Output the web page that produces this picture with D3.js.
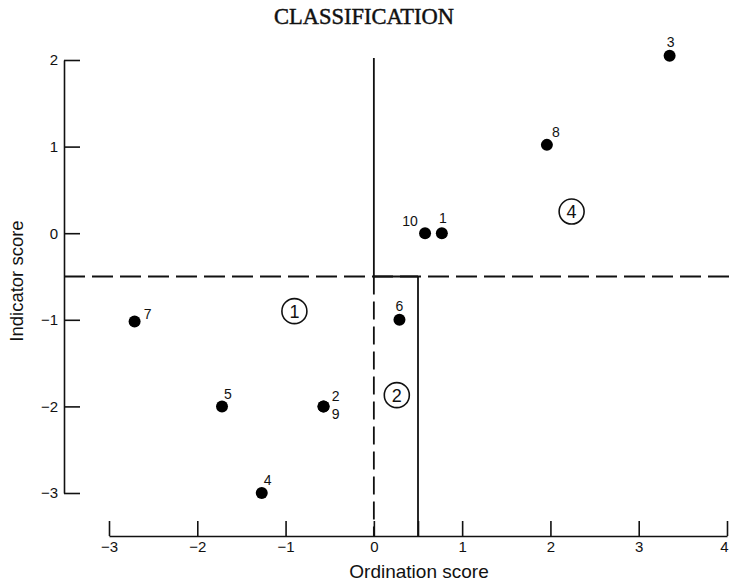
<!DOCTYPE html>
<html>
<head>
<meta charset="utf-8">
<script src="https://cdn.jsdelivr.net/npm/d3@7"></script>
<style>
  html, body { margin: 0; padding: 0; background: #fff; }
  svg { display: block; }
</style>
</head>
<body>
<svg id="chart" width="730" height="585"></svg>
<script>
// Sample sites: id, ordination score (x), indicator score (y)
const sampleIds   = ["1", "2", "3", "4", "5", "6", "7", "8", "9", "10"];
const ordination  = [0.77, -0.57, 3.35, -1.27, -1.72, 0.29, -2.71, 1.96, -0.57, 0.58];
const indicator   = [0.0, -2.0, 2.05, -3.0, -2.0, -1.0, -1.02, 1.02, -2.0, 0.0];

// Classification groups (circled numbers)
const groupIds        = ["1", "2", "4"];
const groupOrdination = [-0.9, 0.26, 2.24];
const groupIndicator  = [-0.9, -1.87, 0.25];

// Division thresholds
const ordinationSplits = [0, 0.5];
const indicatorSplit   = -0.5;

// Axis ticks
const xTicks = [-3, -2, -1, 0, 0.5, 1, 2, 3, 4];
const yTicks = [2, 1, 0, -1, -2, -3];

const svg = d3.select("#chart");

const x = d3.scaleLinear().domain([-3, 4]).range([109, 727]);
const y = d3.scaleLinear().domain([-3, 2]).range([493, 60]);
const axisX = 64;
const axisY = 536;

const sans = "'Liberation Sans', Arial, Helvetica, sans-serif";
const minus = d => (d < 0 ? "\u2212" + Math.abs(d) : String(d));

// Y axis (ticks point into the plot)
const gy = svg.append("g")
  .attr("transform", `translate(${axisX},0)`)
  .call(d3.axisLeft(y).tickValues(yTicks).tickSizeInner(-16).tickSizeOuter(0)
        .tickPadding(6).tickFormat(minus));

// X axis
const gx = svg.append("g")
  .attr("transform", `translate(0,${axisY})`)
  .call(d3.axisBottom(x).tickValues(xTicks).tickSizeInner(-15).tickSizeOuter(0)
        .tickPadding(5).tickFormat(d => (d === 0.5 ? "" : minus(d))));

[gy, gx].forEach(g => {
  g.attr("font-size", 15).attr("font-family", sans);
  g.select(".domain").attr("stroke", "#111").attr("stroke-width", 1.6);
  g.selectAll(".tick line").attr("stroke", "#111").attr("stroke-width", 1.6);
  g.selectAll(".tick text").attr("fill", "#111");
});

// keep the last x label inside the page edge
gx.selectAll(".tick text").filter(d => d === d3.max(xTicks)).attr("dx", -3);

// Division lines
const lines = svg.append("g").attr("stroke", "#111").attr("fill", "none");

// horizontal split across the whole plot (dashed)
lines.append("line")
  .attr("x1", axisX).attr("x2", 730)
  .attr("y1", y(indicatorSplit)).attr("y2", y(indicatorSplit))
  .attr("stroke-width", 1.8).attr("stroke-dasharray", "21,7");

// solid segment between the two vertical splits
lines.append("line")
  .attr("x1", x(ordinationSplits[0])).attr("x2", x(ordinationSplits[1]))
  .attr("y1", y(indicatorSplit)).attr("y2", y(indicatorSplit))
  .attr("stroke-width", 1.8);

// vertical split at 0: solid above, dashed below
lines.append("line")
  .attr("x1", x(ordinationSplits[0])).attr("x2", x(ordinationSplits[0]))
  .attr("y1", y(2) - 2).attr("y2", y(indicatorSplit))
  .attr("stroke-width", 1.8);
lines.append("line")
  .attr("x1", x(ordinationSplits[0])).attr("x2", x(ordinationSplits[0]))
  .attr("y1", y(indicatorSplit)).attr("y2", axisY)
  .attr("stroke-width", 1.8).attr("stroke-dasharray", "18,7");

// vertical split at 0.5 below the horizontal split (solid)
lines.append("line")
  .attr("x1", x(ordinationSplits[1])).attr("x2", x(ordinationSplits[1]))
  .attr("y1", y(indicatorSplit)).attr("y2", axisY)
  .attr("stroke-width", 1.8);

// Sample points
const points = sampleIds.map((id, i) => ({ id, ox: ordination[i], iy: indicator[i] }));

svg.append("g").selectAll("circle")
  .data(points)
  .join("circle")
  .attr("cx", d => x(d.ox))
  .attr("cy", d => y(d.iy))
  .attr("r", 6)
  .attr("fill", "#000");

// Label placement around each point
const labelOffset = {
  "1": [1, -15], "2": [12, -10], "3": [1, -14], "4": [6, -13], "5": [6, -12],
  "6": [0, -14], "7": [13, -8], "8": [9, -13], "9": [12, 8], "10": [-15, -12]
};

svg.append("g").selectAll("text")
  .data(points)
  .join("text")
  .attr("x", d => x(d.ox) + labelOffset[d.id][0])
  .attr("y", d => y(d.iy) + labelOffset[d.id][1])
  .attr("text-anchor", "middle")
  .attr("dominant-baseline", "central")
  .attr("font-family", sans).attr("font-size", 14)
  .attr("fill", "#111")
  .text(d => d.id);

// Circled group numbers
const groups = groupIds.map((id, i) => ({ id, ox: groupOrdination[i], iy: groupIndicator[i] }));
const gg = svg.append("g").selectAll("g")
  .data(groups)
  .join("g")
  .attr("transform", d => `translate(${x(d.ox)},${y(d.iy)})`);
gg.append("circle").attr("r", 12.5).attr("fill", "none")
  .attr("stroke", "#111").attr("stroke-width", 1.6);
gg.append("text")
  .attr("text-anchor", "middle").attr("dominant-baseline", "central")
  .attr("y", 0.5)
  .attr("font-family", sans).attr("font-size", 18)
  .attr("fill", "#111")
  .text(d => d.id);

// Title
svg.append("text")
  .attr("x", 364).attr("y", 24)
  .attr("text-anchor", "middle")
  .attr("font-family", "'Liberation Serif', 'Times New Roman', serif")
  .attr("font-size", 22.5)
  .attr("fill", "#111").attr("stroke", "#111").attr("stroke-width", 0.45)
  .text("CLASSIFICATION");

// Axis titles
svg.append("text")
  .attr("x", 419).attr("y", 578)
  .attr("text-anchor", "middle")
  .attr("font-family", sans).attr("font-size", 19)
  .attr("fill", "#111")
  .text("Ordination score");

svg.append("text")
  .attr("transform", "translate(23,281) rotate(-90)")
  .attr("text-anchor", "middle")
  .attr("font-family", sans).attr("font-size", 18.5)
  .attr("fill", "#111")
  .text("Indicator score");
</script>
</body>
</html>
